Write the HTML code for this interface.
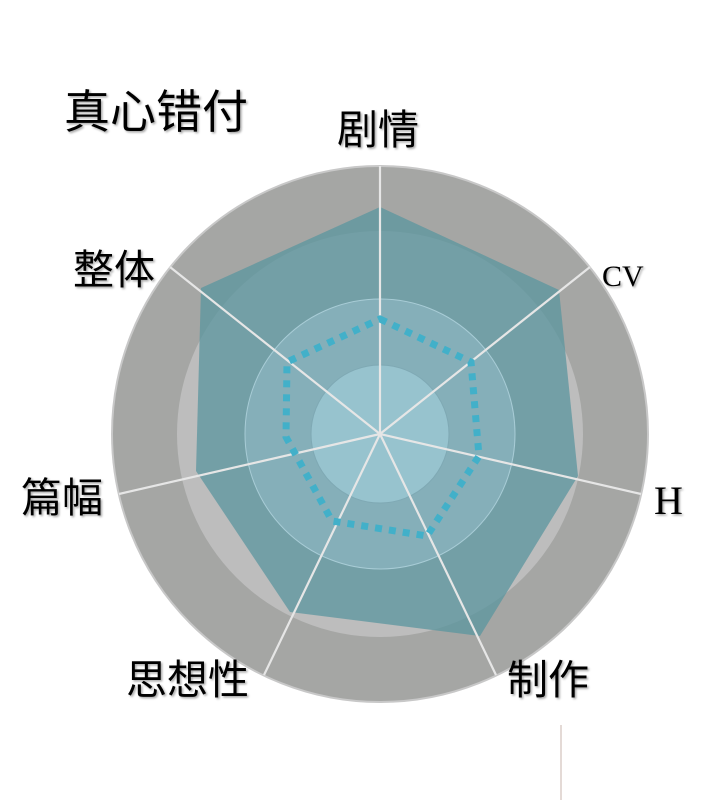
<!DOCTYPE html>
<html><head><meta charset="utf-8"><style>
html,body{margin:0;padding:0;background:#fff;width:720px;height:806px;overflow:hidden}
svg{position:absolute;left:0;top:0}
text{font-family:"Liberation Sans","Noto Sans CJK SC",sans-serif;fill:#000}
</style></head><body>
<svg width="720" height="806" viewBox="0 0 720 806">
<defs><filter id="sh"><feDropShadow dx="1.5" dy="1.5" stdDeviation="1" flood-color="#000" flood-opacity="0.35"/></filter></defs>
<circle cx="380" cy="434" r="268" fill="#a5a6a4" stroke="#c8c8c8" stroke-width="2"/>
<circle cx="380" cy="434" r="203" fill="#bdbdbd"/>
<polygon points="380,207 559,290 578,476 480,636 290,612 196,471 201,288" fill="rgb(91,150,159)" fill-opacity="0.75"/>
<circle cx="380" cy="434" r="135" fill="#9cc3d0" fill-opacity="0.45" stroke="#a8ccd6" stroke-width="1"/>
<circle cx="380" cy="434" r="69" fill="#a6d4e0" fill-opacity="0.55" stroke="#7fa9b4" stroke-width="1"/>
<g stroke="#e6e6e6" stroke-width="2.2">
<line x1="380" y1="434" x2="380" y2="166"/>
<line x1="380" y1="434" x2="590" y2="267"/>
<line x1="380" y1="434" x2="641" y2="494"/>
<line x1="380" y1="434" x2="496" y2="675"/>
<line x1="380" y1="434" x2="264" y2="675"/>
<line x1="380" y1="434" x2="119" y2="494"/>
<line x1="380" y1="434" x2="170" y2="267"/>
</g>
<polygon points="380,319 471,362 479,456 427,536 332,521 286,437 287,362" fill="none" stroke="#42b0c9" stroke-width="7" stroke-dasharray="7 7"/>
<line x1="561" y1="725" x2="561" y2="800" stroke="#c9b5ad" stroke-width="1"/>
<g filter="url(#sh)">
<text x="64" y="128" font-size="46">真心错付</text>
<text x="337" y="144" font-size="41">剧情</text>
<text x="73" y="284" font-size="41">整体</text>
<text x="21" y="512" font-size="41">篇幅</text>
<text x="126" y="694" font-size="41">思想性</text>
<text x="507" y="694" font-size="41">制作</text>
<text x="602" y="286" font-size="30" style='font-family:"Liberation Serif",serif'>CV</text>
<text x="654" y="514" font-size="40" style='font-family:"Liberation Serif",serif'>H</text>
</g>
</svg>
</body></html>
